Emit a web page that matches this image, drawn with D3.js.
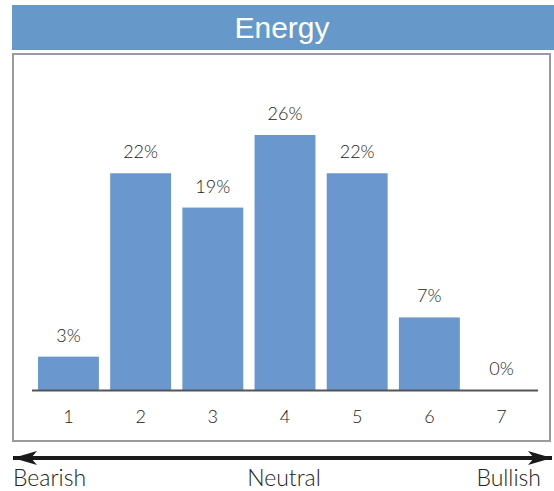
<!DOCTYPE html>
<html><head><meta charset="utf-8">
<script src="https://cdn.jsdelivr.net/npm/d3@7"></script>
<style>
html,body{margin:0;padding:0;background:#fff;}
svg{display:block;}
</style></head>
<body>
<script>
const title = "Energy";
const categories = ["1","2","3","4","5","6","7"];
const values = [3.4, 22.1, 18.6, 26.0, 22.1, 7.4, 0];
const valueLabels = ["3%","22%","19%","26%","22%","7%","0%"];
const scaleLabels = ["Bearish","Neutral","Bullish"];

const W = 554, H = 491;
const svg = d3.select("body").append("svg").attr("width", W).attr("height", H);

// title bar
svg.append("rect").attr("x",12).attr("y",5).attr("width",542).attr("height",45).attr("fill","#6699c9");
svg.append("text").attr("x",282).attr("y",38).attr("text-anchor","middle")
  .attr("font-family","Liberation Sans, Arial, sans-serif").attr("font-size",30)
  .attr("fill","#fff").text(title);

// chart box
svg.append("rect").attr("x",13).attr("y",54).attr("width",537).attr("height",387)
  .attr("fill","#fff").attr("stroke","#9a9a9a").attr("stroke-width",2);

const x = d3.scaleBand().domain(categories).range([32,538]).paddingInner(0.156).paddingOuter(0.083);
const y = d3.scaleLinear().domain([0,26]).range([390,135]);

const font = "Lato, 'Noto Sans', sans-serif";

svg.selectAll("rect.bar").data(values).enter().append("rect").attr("class","bar")
  .attr("x",(d,i)=>x(categories[i])).attr("width",x.bandwidth())
  .attr("y",d=>y(d)).attr("height",d=>y(0)-y(d)).attr("fill","#6b97cf");

svg.selectAll("text.vl").data(values).enter().append("text").attr("class","vl")
  .attr("x",(d,i)=>x(categories[i])+x.bandwidth()/2).attr("y",d=>y(d)-15)
  .attr("text-anchor","middle").attr("font-family",font).attr("font-size",18).attr("font-weight",300)
  .attr("fill","#222").text((d,i)=>valueLabels[i]);

// x axis
const xAxis = d3.axisBottom(x).tickSize(0).tickPadding(20);
const ax = svg.append("g").attr("transform","translate(0,390.5)").call(xAxis);
ax.select(".domain").attr("stroke","#555").attr("stroke-width",2).attr("d","M32,0H538");
ax.selectAll("text").attr("font-family",font).attr("font-size",18).attr("font-weight",300).attr("fill","#222");

// arrow
const defs = svg.append("defs");
["s","e"].forEach(k=>{
  defs.append("marker").attr("id","m"+k).attr("viewBox","0 0 24 14").attr("refX", k==="e"?24:0).attr("refY",7)
    .attr("markerWidth",24).attr("markerHeight",14).attr("markerUnits","userSpaceOnUse").attr("orient","auto")
    .append("path").attr("d", k==="e" ? "M0,0L24,7L0,14L6,7Z" : "M24,0L0,7L24,14L18,7Z").attr("fill","#1a1a1a");
});
svg.append("line").attr("x1",13).attr("x2",552).attr("y1",458).attr("y2",458)
  .attr("stroke","#1a1a1a").attr("stroke-width",4)
  .attr("marker-start","url(#ms)").attr("marker-end","url(#me)");

const lf = 23;
svg.append("text").attr("x",13).attr("y",486).attr("font-family",font).attr("font-weight",300).attr("font-size",lf).attr("fill","#222").text(scaleLabels[0]);
svg.append("text").attr("x",284).attr("y",486).attr("text-anchor","middle").attr("font-family",font).attr("font-weight",300).attr("font-size",lf).attr("fill","#222").text(scaleLabels[1]);
svg.append("text").attr("x",541).attr("y",486).attr("text-anchor","end").attr("font-family",font).attr("font-weight",300).attr("font-size",lf).attr("fill","#222").text(scaleLabels[2]);
</script>
</body></html>
